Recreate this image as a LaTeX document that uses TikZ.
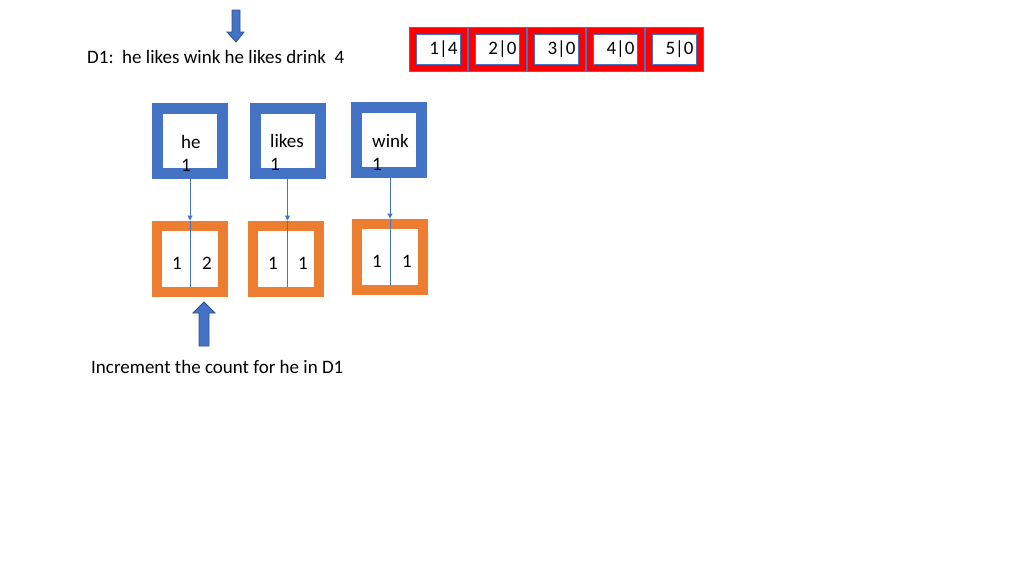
\documentclass[tikz,border=0pt]{standalone}
\usepackage{fontspec}
\setmainfont{Carlito}
\usetikzlibrary{arrows.meta}
\definecolor{wordblue}{HTML}{4472C4}
\definecolor{arrowline}{HTML}{2F528F}
\definecolor{countorange}{HTML}{ED7D31}
\definecolor{docred}{HTML}{FF0000}
\begin{document}
\begin{tikzpicture}[x=1pt, y=-1pt,
          every node/.style={font=\fontsize{19}{23}\selectfont, inner sep=0pt},
          doc/.style={rectangle, draw=wordblue, double=docred, line width=0.8pt, double distance=6pt,
            minimum width=51.4pt, minimum height=37.4pt, fill=white, text width=38pt, align=right},
          word/.style={rectangle, draw=wordblue, line width=11pt, minimum size=65pt, outer sep=5.5pt, fill=white},
          count/.style={rectangle, draw=countorange, line width=10pt, minimum size=66pt, outer sep=5pt, fill=white},
          link/.style={draw=wordblue, line width=1pt},
          pointer/.style={fill=wordblue, draw=arrowline, line width=0.8pt}]
          % \draw [help lines] grid(3,2);
          \useasboundingbox (0,0) rectangle (1024,576);
          \draw[pointer] (232,10) -- (240,10) -- (240,32) -- (244,32) -- (236,42) -- (227,32) -- (232,32) -- cycle;
          \node[anchor=west] (doctext) at (87,57) {D1:\ \ he likes wink he likes drink\ \ 4};
          \node[doc] (d1) at (438.5,49.5) {1|4};
          \node[doc] (d2) at (497.5,49.5) {2|0};
          \node[doc] (d3) at (556.5,49.5) {3|0};
          \node[doc] (d4) at (615.5,49.5) {4|0};
          \node[doc] (d5) at (674.5,49.5) {5|0};
          \node[word] (he) at (190,140.5) {};
          \node[word] (likes) at (287.5,140.5) {};
          \node[word] (wink) at (388.5,139.5) {};
          \node[anchor=west, align=left] (he-t) at (181,153) {he\\1};
          \node[anchor=west, align=left] (likes-t) at (270,152) {likes\\1};
          \node[anchor=west, align=left] (wink-t) at (372,152) {wink\\1};
          \node[count] (he-c) at (190,258.5) {};
          \node[count] (likes-c) at (286,258.5) {};
          \node[count] (wink-c) at (390,256.5) {};
          \draw[link, -{Triangle[length=5pt,width=5pt]}] (he.south) -- (he.south |- he-c.north);
          \draw[link, -{Triangle[length=5pt,width=5pt]}] (likes.south) -- (likes.south |- likes-c.north);
          \draw[link, -{Triangle[length=5pt,width=5pt]}] (wink.south -| wink-c.north) -- (wink-c.north);
          \draw[link] (he.south |- he-c.north) -- ([yshift=10pt]he.south |- he-c.south);
          \draw[link] (likes.south |- likes-c.north) -- ([yshift=10pt]likes.south |- likes-c.south);
          \draw[link] (wink-c.north) -- ([yshift=10pt]wink-c.south);
          \node (he-n1) at (177,263) {1};
          \node (he-n2) at (207,263) {2};
          \node (likes-n1) at (273,263) {1};
          \node (likes-n2) at (303,263) {1};
          \node (wink-n1) at (377,261) {1};
          \node (wink-n2) at (407,261) {1};
          \draw[pointer] (204,302) -- (215,313) -- (209,313) -- (209,346) -- (199,346) -- (199,313) -- (193,313) -- cycle;
          \node[anchor=west] (note) at (91,367) {Increment the count for he in D1};
        \end{tikzpicture}
\end{document}
